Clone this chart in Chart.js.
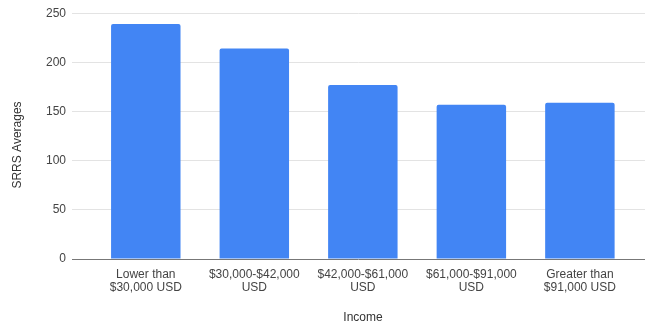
<!DOCTYPE html>
<html>
<head>
<meta charset="utf-8">
<script src="https://cdn.jsdelivr.net/npm/chart.js@4"></script>
<style>
  html, body { margin: 0; padding: 0; background: #fff; }
  #wrap { width: 645px; height: 328px; }
</style>
</head>
<body>
<div id="wrap"><canvas id="myChart" width="645" height="328"></canvas></div>
<script>
const incomeGroups = [
    ["Lower than", "$30,000 USD"],
    ["$30,000-$42,000", "USD"],
    ["$42,000-$61,000", "USD"],
    ["$61,000-$91,000", "USD"],
    ["Greater than", "$91,000 USD"]
];
const srrsAverages = [239, 214, 177, 157, 159];
const yTicks = [0, 50, 100, 150, 200, 250];

const FONT = "'Liberation Sans', Arial, sans-serif";

// axis titles, placed the way the spreadsheet export places them
const axisTitles = {
    id: 'axisTitles',
    afterDraw(chart) {
        const ctx = chart.ctx;
        ctx.save();
        ctx.fillStyle = '#333';
        ctx.font = '12px ' + FONT;
        ctx.textAlign = 'center';
        ctx.textBaseline = 'middle';
        ctx.fillText('Income', 363, 318);
        ctx.translate(18, 145);
        ctx.rotate(-Math.PI / 2);
        ctx.fillText('SRRS Averages', 0, 0);
        ctx.restore();
    }
};

function drawGraph() {
    const ctx = document.getElementById('myChart');

    const data = {
        datasets: [{
            label: 'SRRS Averages',
            data: srrsAverages.map((v, i) => ({ x: i, y: v })),
            backgroundColor: '#4285f4',
            borderRadius: 2,
            borderSkipped: 'bottom',
            categoryPercentage: 1,
            barPercentage: 0.64
        }]
    };

    return new Chart(ctx, {
        type: 'bar',
        data: data,
        plugins: [axisTitles],
        options: {
            responsive: false,
            animation: false,
            layout: { padding: { top: 13, right: 0, bottom: 0, left: 0 } },
            plugins: {
                legend: { display: false },
                tooltip: { enabled: false }
            },
            scales: {
                x: {
                    type: 'linear',
                    offset: false,
                    min: -0.68,
                    max: 4.6,
                    grid: { display: false, drawTicks: false },
                    border: { display: false },
                    afterBuildTicks: s => { s.ticks = incomeGroups.map((_, i) => ({ value: i })); },
                    afterFit: s => { s.height = 69; },
                    ticks: {
                        autoSkip: false,
                        maxRotation: 0,
                        padding: 9,
                        color: '#444',
                        font: { family: FONT, size: 12, lineHeight: 1.08 },
                        callback: v => incomeGroups[v]
                    }
                },
                y: {
                    min: 0,
                    max: 250,
                    afterBuildTicks: s => { s.ticks = yTicks.map(v => ({ value: v })); },
                    afterFit: s => { s.width = 72; },
                    grid: {
                        drawTicks: false,
                        lineWidth: 1,
                        color: c => c.tick.value === 0 ? '#777' : '#e3e3e3'
                    },
                    border: { display: false },
                    ticks: {
                        padding: 6,
                        color: '#444',
                        font: { family: FONT, size: 12 }
                    }
                }
            }
        }
    });
}

drawGraph();
</script>
</body>
</html>
